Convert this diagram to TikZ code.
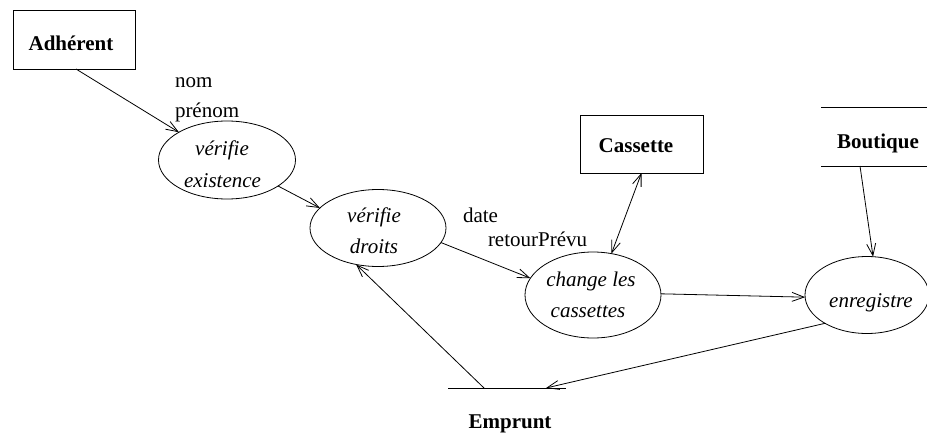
\documentclass[tikz,border=0pt]{standalone}
\usepackage{fontspec}
\setmainfont{Liberation Serif}
\usetikzlibrary{arrows.meta,shapes.geometric}
\begin{document}
\begin{tikzpicture}[x=1pt,y=-1pt,
  every node/.style={font=\fontsize{21}{32}\selectfont, inner sep=0pt, outer sep=0pt},
  proc/.style={draw, ellipse, line width=0.8pt},
  entity/.style={draw, rectangle, line width=0.8pt},
  store/.style={rectangle},
  txt/.style={anchor=base},
  ptxt/.style={anchor=base, font=\fontsize{21}{32}\selectfont\itshape},
  btxt/.style={anchor=base, font=\fontsize{21}{32}\selectfont\bfseries},
  flow/.style={line width=0.8pt, -{Straight Barb[length=12pt,width=9pt]}},
  biflow/.style={line width=0.8pt, {Straight Barb[length=12pt,width=9pt]}-{Straight Barb[length=12pt,width=9pt]}},
  rule/.style={line width=0.8pt}
]
\useasboundingbox (0,0) rectangle (927,442);

% external entities
\node[entity, minimum width=122pt, minimum height=59pt] (adh) at (74,39.5) {};
\node[btxt] (adhT) at (71,50) {Adhérent};
\node[entity, minimum width=123pt, minimum height=58pt] (cas) at (641.5,144) {};
\node[btxt] (casT) at (636,152) {Cassette};

% data stores
\node[store, minimum width=106pt, minimum height=59pt] (bou) at (874,136.5) {};
\draw[rule] (bou.north west) -- (bou.north east);
\draw[rule] (bou.south west) -- (bou.south east);
\node[btxt] (bouT) at (878,148) {Boutique};
\node[store, minimum width=118pt, minimum height=0pt] (emp) at (507,388) {};
\draw[rule] (emp.west) -- (emp.east);
\node[btxt] (empT) at (510,428) {Emprunt};

% processes
\node[proc, minimum width=137pt, minimum height=78pt] (vex) at (227,160) {};
\node[ptxt] (vexA) at (222,155) {vérifie};
\node[ptxt] (vexB) at (222.5,187) {existence};
\node[proc, minimum width=136pt, minimum height=77pt] (vdr) at (378,228) {};
\node[ptxt] (vdrA) at (374,222) {vérifie};
\node[ptxt] (vdrB) at (374,253) {droits};
\node[proc, minimum width=136pt, minimum height=86pt] (chg) at (593,295) {};
\node[ptxt] (chgA) at (591,286) {change les};
\node[ptxt] (chgB) at (588,317) {cassettes};
\node[proc, minimum width=124pt, minimum height=77pt] (enr) at (867,295) {};
\node[ptxt] (enrT) at (871,307) {enregistre};

% flow labels
\node[txt, anchor=base west] (nom) at (175,87) {nom};
\node[txt, anchor=base west] (prenom) at (175,117) {prénom};
\node[txt, anchor=base west] (date) at (463,222) {date};
\node[txt, anchor=base west] (retour) at (488,246) {retourPrévu};

% flows
\draw[flow] ([xshift=2pt]adh.south) -- (vex.150);
\draw[flow] (vex.-27) -- (vdr.161);
\draw[flow] (vdr.-13) -- (chg.165);
\draw[biflow] (chg.66) -- (cas.south);
\draw[flow] ([xshift=-14pt]bou.south) -- (enr.81);
\draw[flow] (chg.1) -- (enr.182);
\draw[flow] (enr.214) -- ([xshift=39pt]emp.center);
\draw[flow] ([xshift=-23pt]emp.center) -- (vdr.239);
\end{tikzpicture}
\end{document}
